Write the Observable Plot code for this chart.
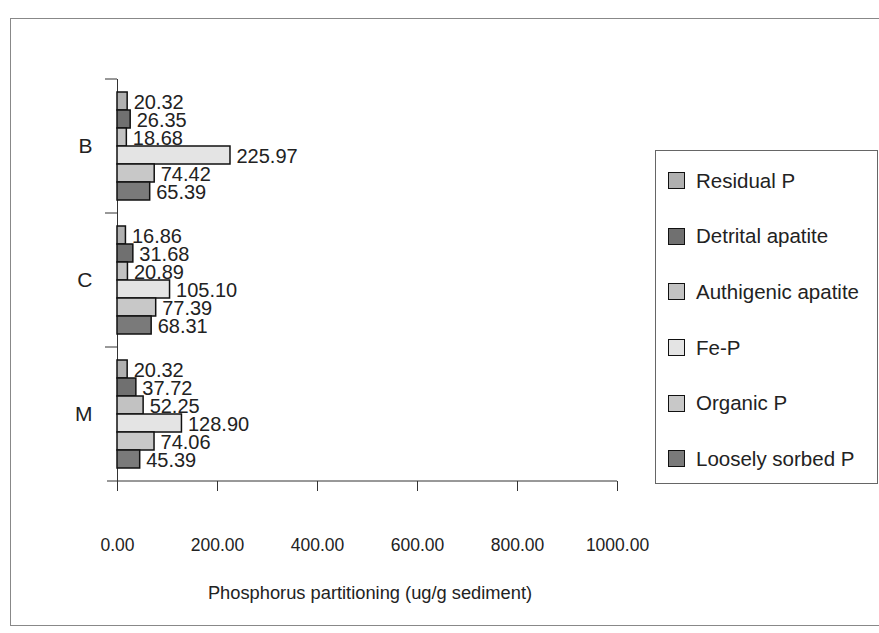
<!DOCTYPE html>
<html>
<head>
<meta charset="utf-8">
<script src="https://cdn.jsdelivr.net/npm/d3@7"></script>
<script src="https://cdn.jsdelivr.net/npm/@observablehq/plot@0.6"></script>
<style>
  body { margin: 0; background: #fff; font-family: "Liberation Sans", Arial, sans-serif; }
  #wrap { position: relative; width: 879px; height: 633px; overflow: hidden; background: #fff; }
  #border { position: absolute; left: 10px; top: 18px; width: 900px; height: 606px; border: 1px solid #888; }
  #chart { position: absolute; left: 0; top: 0; }
  #legend { position: absolute; left: 655px; top: 150px; width: 223px; height: 334px; border: 1px solid #666;
            background: #fff; padding-top: 2px; box-sizing: border-box; }
  .item { height: 55.6px; display: flex; align-items: center; font-size: 20.5px; color: #222; white-space: nowrap; }
  .sw { display: inline-block; flex: none; width: 15px; height: 15px; border: 1.6px solid #111; margin-left: 12px; margin-right: 11px; }
  #xtitle { position: absolute; left: 170px; width: 400px; top: 582px; text-align: center; font-size: 18.3px; color: #222; }
</style>
</head>
<body>
<div id="wrap">
  <div id="border"></div>
  <div id="chart"></div>
  <div id="legend"></div>
  <div id="xtitle"></div>
</div>
<script>
const sites = ["B", "C", "M"];
const fractions = ["Residual P", "Detrital apatite", "Authigenic apatite", "Fe-P", "Organic P", "Loosely sorbed P"];
const valuesB = [20.32, 26.35, 18.68, 225.97, 74.42, 65.39];
const valuesC = [16.86, 31.68, 20.89, 105.10, 77.39, 68.31];
const valuesM = [20.32, 37.72, 52.25, 128.90, 74.06, 45.39];
const fills = ["#b0b0b0", "#707070", "#c2c2c2", "#e4e4e4", "#c8c8c8", "#7a7a7a"];
const xTicks = [0, 200, 400, 600, 800, 1000];
const xTitle = "Phosphorus partitioning (ug/g sediment)";

const seriesBySite = [valuesB, valuesC, valuesM];
const data = [];
sites.forEach((s, i) => fractions.forEach((f, j) => data.push({site: s, fraction: f, value: seriesBySite[i][j]})));

const chart = Plot.plot({
  width: 879,
  height: 633,
  marginTop: 78,
  marginBottom: 152,
  marginLeft: 117,
  marginRight: 262,
  style: {fontFamily: "'Liberation Sans', Arial, sans-serif", background: "transparent", color: "#222"},
  x: {domain: [0, 1000]},
  y: {domain: fractions, paddingInner: 0, paddingOuter: 0.72, axis: null},
  fy: {domain: sites, padding: 0},
  color: {domain: fractions, range: fills},
  marks: [
    Plot.axisX({ticks: xTicks, tickFormat: d => d.toFixed(2), tickSize: 10, tickPadding: 47, fontSize: 17.5, label: null, stroke: "#333"}),
    Plot.axisFy({anchor: "left", tickSize: 0, tickPadding: 25, fontSize: 21, label: null}),
    Plot.ruleX([0], {stroke: "#333", strokeWidth: 1}),
    Plot.barX(data, {x: "value", y: "fraction", fy: "site", fill: "fraction", stroke: "#111", strokeWidth: 1.5}),
    Plot.text(data, {x: "value", y: "fraction", fy: "site", text: d => d.value.toFixed(2), textAnchor: "start",
                     dx: 6, dy: 1, fontSize: 20, fill: "#222"})
  ]
});
document.getElementById("chart").appendChild(chart);

// axis line and category-boundary ticks, positioned from the plot's own scales
const sx = chart.scale("x"), sfy = chart.scale("fy");
const x0 = sx.apply(0), x1 = sx.apply(1000);
const svg = d3.select(chart);
const g = svg.append("g").attr("stroke", "#333").attr("stroke-width", 1);
const bottom = sfy.apply(sites[sites.length - 1]) + sfy.bandwidth;
g.append("line").attr("x1", x0 - 10).attr("x2", x1).attr("y1", bottom).attr("y2", bottom);
sites.forEach(s => {
  const yy = sfy.apply(s);
  g.append("line").attr("x1", x0 - 12).attr("x2", x0).attr("y1", yy).attr("y2", yy);
});

// legend
const legend = d3.select("#legend");
fractions.forEach((f, i) => {
  const it = legend.append("div").attr("class", "item");
  it.append("span").attr("class", "sw").style("background", fills[i]);
  it.append("span").text(f);
});
document.getElementById("xtitle").textContent = xTitle;
</script>
</body>
</html>
